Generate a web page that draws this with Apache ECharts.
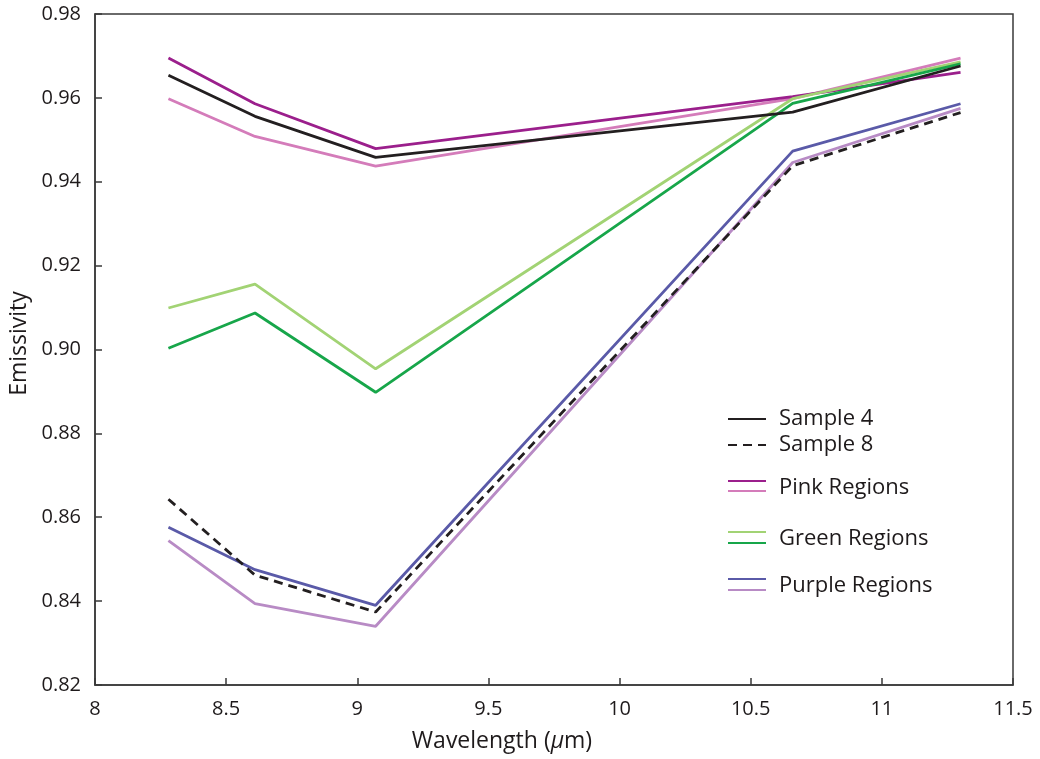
<!DOCTYPE html>
<html>
<head>
<meta charset="utf-8">
<script src="https://cdn.jsdelivr.net/npm/echarts@6/dist/echarts.min.js"></script>
<style>html,body{margin:0;padding:0;background:#fff}#c{width:1040px;height:759px}</style>
</head>
<body>
<div id="c"></div>
<script>
var wavelengths = [8.28, 8.61, 9.07, 10.66, 11.30];
var sample4 = [0.9654, 0.9556, 0.9458, 0.9566, 0.9676];
var sample8 = [0.8643, 0.8462, 0.8374, 0.9438, 0.9565];
var pinkDark = [0.9695, 0.9586, 0.9479, 0.9603, 0.9661];
var pinkLight = [0.9598, 0.9508, 0.9437, 0.9598, 0.9695];
var greenLight = [0.9099, 0.9156, 0.8954, 0.9598, 0.9686];
var greenDark = [0.9003, 0.9087, 0.8898, 0.9587, 0.9681];
var purpleDark = [0.8576, 0.8475, 0.8390, 0.9473, 0.9586];
var purpleLight = [0.8544, 0.8394, 0.8340, 0.9446, 0.9575];
var yTicks = [0.82, 0.84, 0.86, 0.88, 0.90, 0.92, 0.94, 0.96, 0.98];

var FONT = 'Open Sans';
var TXT = '#1e1a1b';

function pts(v) { return wavelengths.map(function (w, i) { return [w, v[i]]; }); }

var seriesDefs = [
  { name: 'Pink Regions', data: pinkLight, color: '#d47cba', type: 'solid' },
  { name: 'Pink Regions dark', data: pinkDark, color: '#9b1f8c', type: 'solid' },
  { name: 'Green Regions light', data: greenLight, color: '#a2d374', type: 'solid' },
  { name: 'Green Regions', data: greenDark, color: '#17a64a', type: 'solid' },
  { name: 'Purple Regions', data: purpleDark, color: '#5a5aa8', type: 'solid' },
  { name: 'Purple Regions light', data: purpleLight, color: '#b88bc5', type: 'solid' },
  { name: 'Sample 4', data: sample4, color: '#231f20', type: 'solid' },
  { name: 'Sample 8', data: sample8, color: '#231f20', type: [9, 6] }
];

var series = seriesDefs.map(function (s) {
  return {
    name: s.name, type: 'line', data: pts(s.data), symbol: 'none', silent: true,
    color: s.color,
    lineStyle: { color: s.color, width: 2.8, type: s.type }
  };
});

var labelMap = {
  'Sample 4': 'Sample 4', 'Sample 8': 'Sample 8',
  'Pink Regions dark': '{s|}\n{t|Pink Regions}', 'Pink Regions': '',
  'Green Regions light': '{s|}\n{t|Green Regions}', 'Green Regions': '',
  'Purple Regions': '{s|}\n{t|Purple Regions}', 'Purple Regions light': ''
};

function legendAt(name, y, half) {
  return {
    data: [name], left: 727, top: y - half, padding: 0, orient: 'vertical',
    itemWidth: 38, itemHeight: 14, itemGap: 0, selectedMode: false,
    itemStyle: { color: 'transparent', borderColor: 'transparent', borderWidth: 0, opacity: 0 },
    formatter: function (n) { return labelMap[n]; },
    textStyle: { fontFamily: FONT, fontSize: 22, color: TXT, padding: [0, 0, 0, 8],
      rich: {
        s: { fontFamily: FONT, fontSize: 22, lineHeight: 14, color: TXT },
        t: { fontFamily: FONT, fontSize: 22, lineHeight: 28, color: TXT }
      } }
  };
}

var legends = [
  legendAt('Sample 4', 415, 7),
  legendAt('Sample 8', 441, 7),
  legendAt('Pink Regions dark', 477, 21),
  legendAt('Pink Regions', 491, 7),
  legendAt('Green Regions light', 528, 21),
  legendAt('Green Regions', 543, 7),
  legendAt('Purple Regions', 575, 21),
  legendAt('Purple Regions light', 590, 7)
];

var chart = echarts.init(document.getElementById('c'), null, { renderer: 'canvas' });
chart.setOption({
  animation: false,
  backgroundColor: '#fff',
  grid: { left: 95, right: 27, top: 14, bottom: 74, containLabel: false, outerBoundsMode: 'none',
    show: true, borderColor: '#3a3a3a', borderWidth: 1.5, backgroundColor: 'transparent' },
  legend: legends,
  xAxis: {
    type: 'value', min: 8, max: 11.5, interval: 0.5,
    name: 'Wavelength ({it|μ}m)', nameLocation: 'middle', nameGap: 45,
    nameTextStyle: { fontFamily: FONT, fontSize: 23, color: TXT, padding: [0, 104, 0, 0],
      rich: { it: { fontFamily: FONT, fontSize: 23, fontStyle: 'italic', color: TXT } } },
    axisLine: { show: true, lineStyle: { color: '#3a3a3a', width: 1.5 } },
    axisTick: { show: true, inside: true, length: 7, lineStyle: { color: '#3a3a3a', width: 1.5 } },
    axisLabel: { fontFamily: FONT, fontSize: 20, color: TXT, margin: 14,
      formatter: function (v) { return String(+v.toFixed(1)); } },
    splitLine: { show: false }
  },
  yAxis: {
    type: 'value', min: yTicks[0], max: yTicks[yTicks.length - 1], interval: 0.02,
    name: 'Emissivity', nameLocation: 'middle', nameGap: 64, nameRotate: 90,
    nameTextStyle: { fontFamily: FONT, fontSize: 23, color: TXT, padding: [0, 0, 0, 12] },
    axisLine: { show: true, lineStyle: { color: '#3a3a3a', width: 1.5 } },
    axisTick: { show: true, inside: true, length: 7, lineStyle: { color: '#3a3a3a', width: 1.5 } },
    axisLabel: { fontFamily: FONT, fontSize: 20, color: TXT, margin: 14,
      formatter: function (v) { return v.toFixed(2); } },
    splitLine: { show: false }
  },
  series: series
});
</script>
</body>
</html>
